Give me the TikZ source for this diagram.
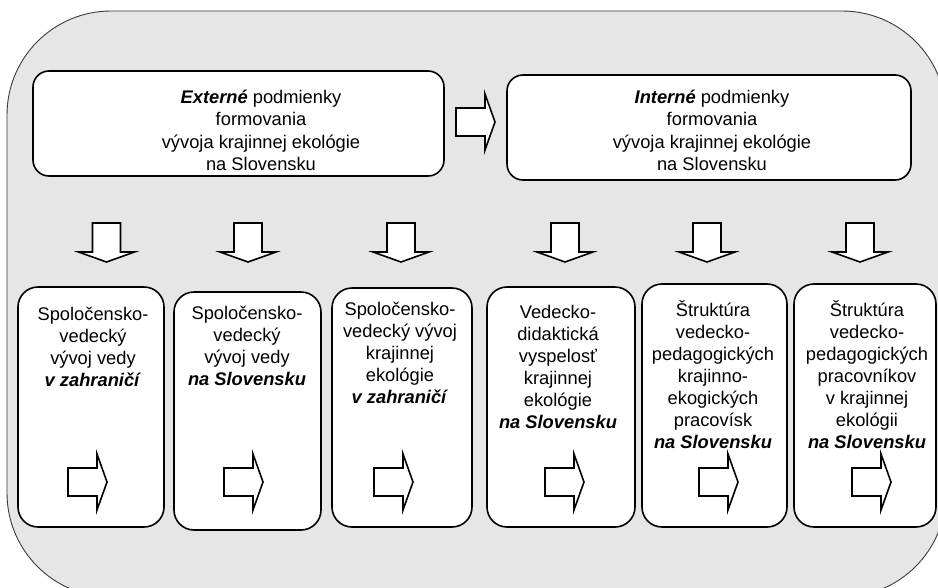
\documentclass[tikz,border=0pt]{standalone}
\usepackage{fontspec}
\setmainfont{Liberation Sans}
\newcommand{\emb}[1]{\textbf{\textit{#1}}}
\definecolor{bggray}{HTML}{E6E6E6}
\definecolor{framegray}{HTML}{3A3A3A}
\tikzset{
  outerframe/.style={draw=framegray, line width=0.9pt, fill=bggray, rounded corners=104pt},
  topbox/.style={draw=black, line width=1.6pt, fill=white, rounded corners=16pt, inner sep=0pt},
  lowbox/.style={draw=black, line width=1.6pt, fill=white, rounded corners=20pt, inner sep=0pt},
  toptxt/.style={align=center, inner sep=0pt, anchor=north, font=\fontsize{18.3}{22.2}\selectfont},
  lowtxt/.style={align=center, inner sep=0pt, anchor=north, font=\fontsize{18.3}{22}\selectfont},
  arrowline/.style={draw=black, line width=1.6pt, fill=white, line join=miter},
  fatarrow/.pic={\path[arrowline] (-29,-14) -- (0,-14) -- (0,-28) -- (10,0) -- (0,28) -- (0,14) -- (-29,14) -- cycle;}
}
\begin{document}
\begin{tikzpicture}[x=1pt,y=-1pt]
\useasboundingbox (0,0) rectangle (938,587);
% outer frame
\draw[outerframe] (7,11) rectangle (946,597);
% top boxes
\node[topbox, minimum width=411pt, minimum height=105pt] (ext) at (238.5,123.5) {};
\node[topbox, minimum width=404pt, minimum height=105pt] (int) at (709,127.5) {};
\node[toptxt] (exttxt) at (261,90) {\emb{Externé} podmienky\\formovania\\vývoja krajinnej ekológie\\na Slovensku};
\node[toptxt] (inttxt) at (712,90) {\emb{Interné} podmienky\\formovania\\vývoja krajinnej ekológie\\na Slovensku};
% middle arrow
\pic at (485,122) {fatarrow};
% down arrows
\foreach \x in {106.5,248,401,565,707,860}{
  \pic[rotate=-90] at (\x,252) {fatarrow};
}
% lower boxes
\node[lowbox, minimum width=146pt, minimum height=240pt] (b1) at (91,407) {};
\node[lowbox, minimum width=147pt, minimum height=238pt] (b2) at (247.5,411) {};
\node[lowbox, minimum width=140pt, minimum height=239pt] (b3) at (402,407.5) {};
\node[lowbox, minimum width=148pt, minimum height=240pt] (b4) at (561,407) {};
\node[lowbox, minimum width=145pt, minimum height=243pt] (b5) at (714.5,405.5) {};
\node[lowbox, minimum width=142pt, minimum height=243pt] (b6) at (865,405.5) {};
\node[lowtxt] (t1) at (93,307) {Spoločensko-\\vedecký\\vývoj vedy\\\emb{v zahraničí}};
\node[lowtxt] (t2) at (247,306) {Spoločensko-\\vedecký\\vývoj vedy\\\emb{na Slovensku}};
\node[lowtxt] (t3) at (400,302) {Spoločensko-\\vedecký vývoj\\krajinnej\\ekológie\\\emb{v zahraničí}};
\node[lowtxt] (t4) at (558,305) {Vedecko-\\didaktická\\vyspelosť\\krajinnej\\ekológie\\\emb{na Slovensku}};
\node[lowtxt] (t5) at (713,300) {Štruktúra\\vedecko-\\pedagogických\\krajinno-\\ekogických\\pracovísk\\\emb{na Slovensku}};
\node[lowtxt] (t6) at (867,300) {Štruktúra\\vedecko-\\pedagogických\\pracovníkov\\v krajinnej\\ekológii\\\emb{na Slovensku}};
% arrows inside lower boxes
\foreach \x in {97,253,403,574,728,881}{
  \pic at (\x,482) {fatarrow};
}
\end{tikzpicture}
\end{document}
